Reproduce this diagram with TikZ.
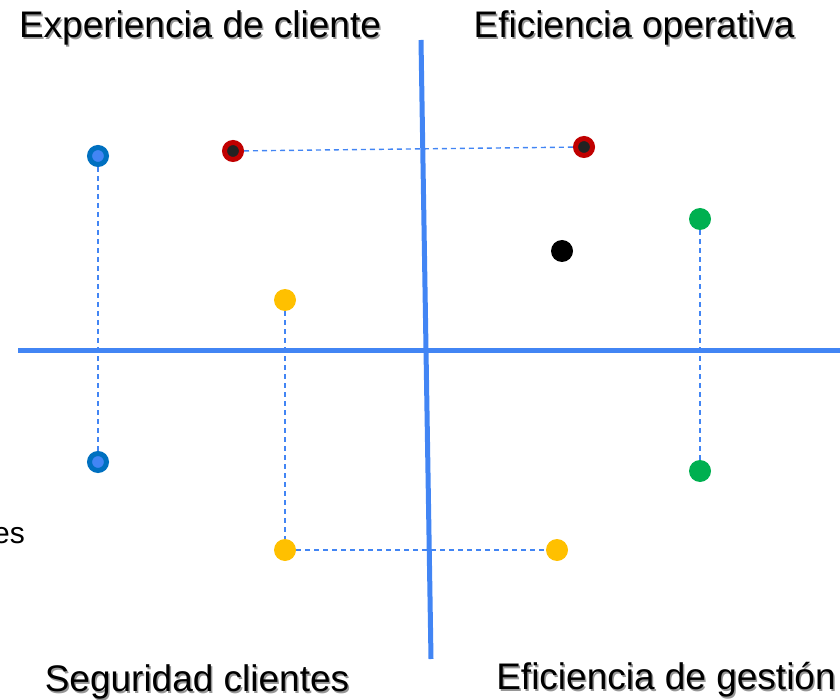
\documentclass[tikz,border=0pt]{standalone}
\usepackage{fontspec}
\setmainfont{Liberation Sans}
\definecolor{axisblue}{RGB}{66,133,244}
\definecolor{dotblue}{RGB}{0,112,192}
\definecolor{innerblue}{RGB}{66,133,244}
\definecolor{dotred}{RGB}{192,0,0}
\definecolor{innerdark}{RGB}{34,34,34}
\definecolor{dotyellow}{RGB}{255,192,0}
\definecolor{dotgreen}{RGB}{0,176,80}
\definecolor{shadowgray}{RGB}{150,150,150}
\begin{document}
\begin{tikzpicture}[x=1pt,y=-1pt,
  axis/.style={draw=axisblue,line width=5pt},
  link/.style={draw=axisblue,line width=1.4pt,dash pattern=on 5pt off 4pt},
  dot/.style={circle,inner sep=0pt,minimum size=22pt},
  ringdot/.style={circle,inner sep=0pt,minimum size=22pt,line width=5pt},
  lbl/.style={font=\fontsize{37}{40}\selectfont,inner sep=0pt},
  shadow/.style={font=\fontsize{37}{40}\selectfont,inner sep=0pt,text=shadowgray}]
\useasboundingbox (0,0) rectangle (840,700);
% axes
\coordinate (vt) at (421,40);
\coordinate (vb) at (431,659);
\coordinate (hl) at (18,350);
\coordinate (hr) at (840,350);
\draw[axis] (vt) -- (vb);
\draw[axis] (hl) -- (hr);
% dots
\node[ringdot,draw=dotblue,fill=innerblue,minimum size=17pt] (b1) at (98,156) {};
\node[ringdot,draw=dotblue,fill=innerblue,minimum size=17pt] (b2) at (98,462) {};
\node[ringdot,draw=dotred,fill=innerdark,minimum size=17pt] (r1) at (233,151) {};
\node[ringdot,draw=dotred,fill=innerdark,minimum size=17pt] (r2) at (584,147) {};
\node[dot,fill=dotyellow] (y1) at (285,300) {};
\node[dot,fill=dotyellow] (y2) at (285,550) {};
\node[dot,fill=dotyellow] (y3) at (557,550) {};
\node[dot,fill=dotgreen] (g1) at (700,219) {};
\node[dot,fill=dotgreen] (g2) at (700,471) {};
\node[dot,fill=black] (k1) at (562,251) {};
% dashed links
\draw[link] (b1) -- (b2);
\draw[link] (r1) -- (r2);
\draw[link] (y1) -- (y2);
\draw[link] (y2) -- (y3);
\draw[link] (g1) -- (g2);
% labels
\node[shadow] (s1) at (201.5,29.5) {Experiencia de cliente};
\node[lbl] (t1) at (200,28) {Experiencia de cliente};
\node[shadow] (s2) at (635.5,29.5) {Eficiencia operativa};
\node[lbl] (t2) at (634,28) {Eficiencia operativa};
\node[shadow] (s3) at (198.5,683.5) {Seguridad clientes};
\node[lbl] (t3) at (197,682) {Seguridad clientes};
\node[shadow] (s4) at (667.5,681.5) {Eficiencia de gestión};
\node[lbl] (t4) at (666,680) {Eficiencia de gestión};
\node[font=\fontsize{30}{34}\selectfont,inner sep=0pt,anchor=east] (es) at (25,536) {es};
\end{tikzpicture}
\end{document}
